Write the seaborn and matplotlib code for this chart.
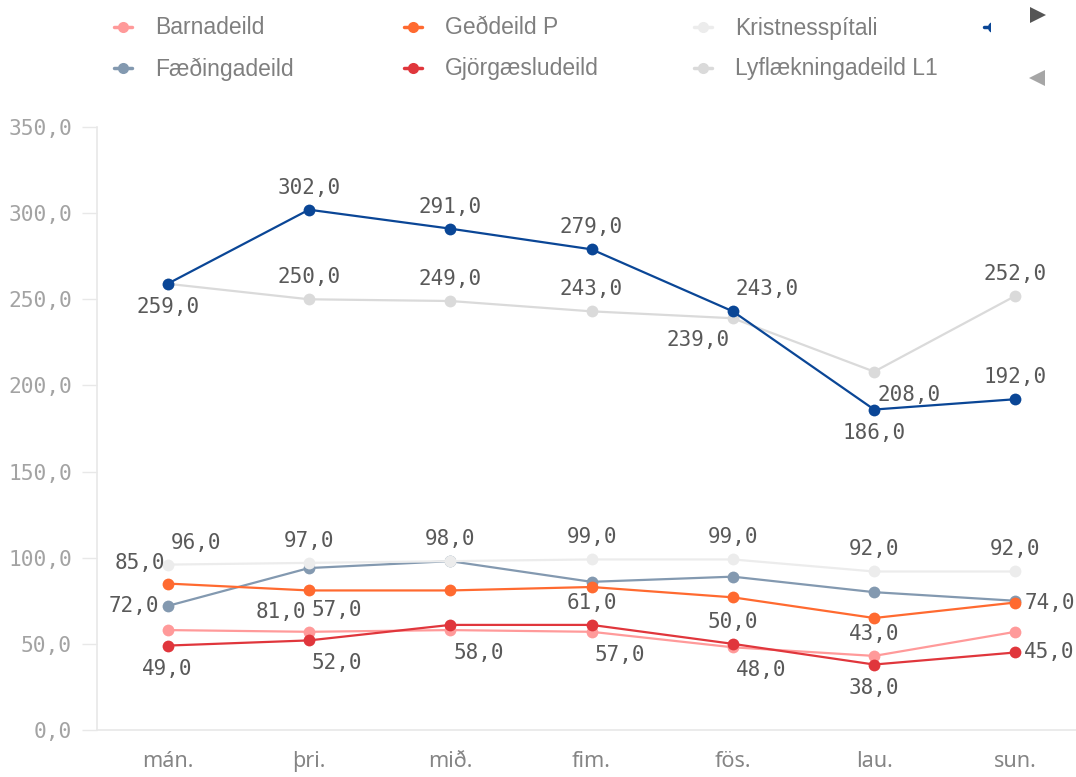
import matplotlib
matplotlib.use("Agg")
import matplotlib.pyplot as plt
from matplotlib.lines import Line2D
from matplotlib.transforms import Bbox
import seaborn as sns
import pandas as pd

# days of the week (Icelandic abbreviations)
days = ["mán.", "þri.", "mið.", "fim.", "fös.", "lau.", "sun."]

# series values
barnadeild = [58, 57, 58, 57, 48, 43, 57]
faedingadeild = [72, 94, 98, 86, 89, 80, 75]
gedeild_p = [85, 81, 81, 83, 77, 65, 74]
gjorgaesludeild = [49, 52, 61, 61, 50, 38, 45]
kristnes = [96, 97, 98, 99, 99, 92, 92]
lyf_l1 = [259, 250, 249, 243, 239, 208, 252]
legudeild = [259, 302, 291, 279, 243, 186, 192]  # blue series, name cut off in legend

series_names = ["Barnadeild", "Fæðingadeild", "Geðdeild P", "Gjörgæsludeild",
                "Kristnesspítali", "Lyflækningadeild L1", "Legudeild"]
series_values = [barnadeild, faedingadeild, gedeild_p, gjorgaesludeild,
                 kristnes, lyf_l1, legudeild]
colors = ["#ff9a9a", "#8399b0", "#ff6a30", "#e0363c", "#ececec", "#dadada", "#0a4696"]

# which points get a value label, and where it sits relative to the point
labels = {
    "Legudeild": {0: "S", 1: "N", 2: "N", 3: "N", 4: "NE", 5: "S", 6: "N"},
    "Lyflækningadeild L1": {1: "N", 2: "N", 3: "N", 4: "SW", 5: "SE", 6: "N"},
    "Kristnesspítali": {0: "NE", 1: "N", 2: "N", 3: "N", 4: "N", 5: "N", 6: "N"},
    "Geðdeild P": {0: "NW", 1: "SW", 6: "E"},
    "Fæðingadeild": {0: "W"},
    "Barnadeild": {1: "NE", 2: "SE", 3: "SE", 4: "SE", 5: "N"},
    "Gjörgæsludeild": {0: "S", 1: "SE", 3: "N", 4: "N", 5: "S", 6: "E"},
}

rows = []
for name, vals in zip(series_names, series_values):
    for d, v in zip(days, vals):
        rows.append({"dagur": d, "fjöldi": v, "deild": name})
df = pd.DataFrame(rows)

sns.set_style("white")
fig = plt.figure(figsize=(10.76, 7.77), dpi=100)
ax = fig.add_axes([97 / 1076, 1 - 730 / 777, 979 / 1076, 603 / 777])

sns.lineplot(data=df, x="dagur", y="fjöldi", hue="deild", hue_order=series_names,
             palette=dict(zip(series_names, colors)), marker="o", markersize=8.5,
             markeredgewidth=0, linewidth=1.6, sort=False, legend=False, ax=ax)

ax.set_ylim(0, 350)
ax.set_xlim(-0.5, -0.5 + 979 / 141.3)
ax.set_yticks(range(0, 351, 50))
ax.set_yticklabels([f"{t:.1f}".replace(".", ",") for t in range(0, 351, 50)],
                   family="DejaVu Sans Mono", fontsize=15.3, color="#a3a3a3")
ax.set_xticks(range(len(days)))
ax.set_xticklabels(days, family="Noto Sans", fontsize=15.5, color="#858585")
ax.set_xlabel("")
ax.set_ylabel("")
ax.tick_params(axis="y", length=11, width=1, color="#e8e8e8", pad=7, left=True)
ax.tick_params(axis="x", length=0, pad=15)
for s in ["top", "right"]:
    ax.spines[s].set_visible(False)
for s in ["left", "bottom"]:
    ax.spines[s].set_color("#e8e8e8")
    ax.spines[s].set_linewidth(1.2)
ax.grid(False)

# value labels
for name, vals in zip(series_names, series_values):
    for i, pos in labels.get(name, {}).items():
        txt = f"{vals[i]:.1f}".replace(".", ",")
        half = len(txt) * 6.3
        dx = {"N": 0, "S": 0, "E": half + 9, "W": -(half + 9),
              "NE": half + 3, "SE": half + 3, "NW": -(half + 3), "SW": -(half + 3)}[pos]
        dy = {"N": 22, "S": -23, "E": 0, "W": 0,
              "NE": 22, "NW": 21, "SE": -23, "SW": -22}[pos]
        ax.annotate(txt, (i, vals[i]), xytext=(dx, dy), textcoords="offset pixels",
                    ha="center", va="center", family="DejaVu Sans Mono",
                    fontsize=15, color="#595959", annotation_clip=False)

# hand-made legend (two rows, scrolled)
W, H = 1076, 777
leg_x = [123, 413, 703, 993]
leg_y = [27, 68]
legend_slots = [(0, 0), (0, 1), (1, 0), (1, 1), (2, 0), (2, 1), (3, 0)]
for name, col, (c, r) in zip(series_names, colors, legend_slots):
    x = leg_x[c]
    y = leg_y[r]
    ln = Line2D([(x - 9) / W, (x + 9) / W], [1 - y / H, 1 - y / H],
                transform=fig.transFigure, color=col, linewidth=2.5)
    mk = Line2D([x / W], [1 - y / H], transform=fig.transFigure, color=col,
                marker="o", markersize=8, markeredgewidth=0, linestyle="none")
    if c == 3:
        clip = Bbox.from_extents(0, 0, 990, H)
        ln.set_clip_box(clip)
        mk.set_clip_box(clip)
        ln.set_clip_on(True)
        mk.set_clip_on(True)
    fig.add_artist(ln)
    fig.add_artist(mk)
    if c < 3:
        fig.text((x + 32) / W, 1 - (y + 1) / H, name, ha="left", va="center",
                 family="Liberation Sans", fontsize=16.5, color="#7f7f7f")

# scroll arrows
fig.add_artist(Line2D([1038 / W], [1 - 15 / H], transform=fig.transFigure,
                      marker=">", markersize=12, color="#555555", markeredgewidth=0,
                      linestyle="none"))
fig.add_artist(Line2D([1037 / W], [1 - 78 / H], transform=fig.transFigure,
                      marker="<", markersize=12, color="#a6a6a6", markeredgewidth=0,
                      linestyle="none"))

fig.savefig("out.png", dpi=100)
